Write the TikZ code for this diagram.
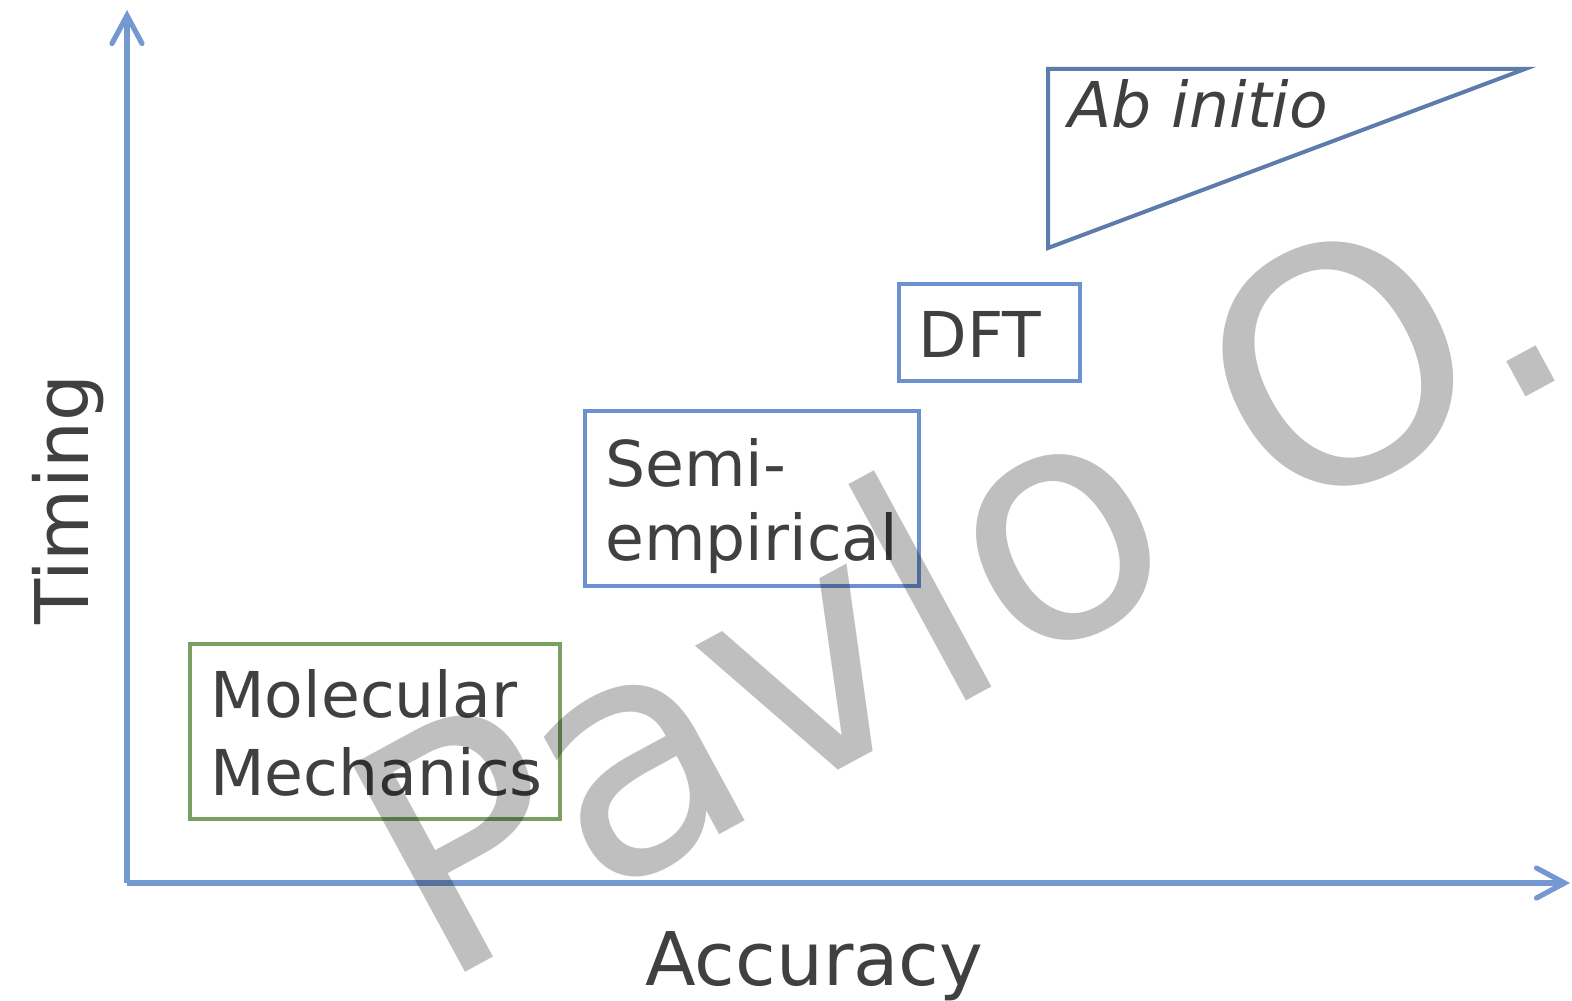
\documentclass[tikz,border=0pt]{standalone}
\usepackage{fontspec}
\setmainfont{DejaVu Sans}
\usetikzlibrary{arrows.meta}

\definecolor{axisblue}{HTML}{7398D2}
\definecolor{boxblue}{HTML}{6C90D0}
\definecolor{triblue}{HTML}{5E7CAB}
\definecolor{boxgreen}{HTML}{78A062}
\definecolor{textgray}{HTML}{404040}

\tikzset{
  axis/.style={line width=2.6pt, draw=axisblue,
    -{Straight Barb[length=14pt, width=15pt, line cap=round]}},
  method/.style={draw, line width=2pt, inner sep=0pt},
  lbl/.style={text=textgray, inner sep=0pt, anchor=base west,
    font=\fontsize{31.6}{39}\selectfont},
  axlbl/.style={text=textgray, inner sep=0pt, anchor=base west,
    font=\fontsize{37}{44}\selectfont},
  signature/.style={text=black, text opacity=0.25, inner sep=0pt,
    font=\fontsize{162}{162}\selectfont}
}

\begin{document}
\begin{tikzpicture}[x=0.5pt, y=-0.5pt]

  \useasboundingbox (0,0) rectangle (1572,1000);

  % Axes
  \coordinate (O)  at (127,883); %
  \coordinate (yt) at (127,10); %
  \coordinate (xt) at (1570,883); %
  \draw[axis] (O) -- (yt); %
  \draw[axis] (O) -- (xt); %

  % Axis labels
  \node[axlbl, rotate=90] (timing) at (88,625) {Timing}; %
  \node[axlbl]            (acc)    at (645,985) {Accuracy}; %

  % Molecular mechanics
  \node[method, draw=boxgreen, anchor=north west,
        minimum width=185pt, minimum height=87.5pt] (mm) at (188,642) {}; %
  \node[lbl] (mm-1) at (210,717) {Molecular}; %
  \node[lbl] (mm-2) at (210,795) {Mechanics}; %

  % Semi-empirical
  \node[method, draw=boxblue, anchor=north west,
        minimum width=167pt, minimum height=87.5pt] (se) at (583,409) {}; %
  \node[lbl] (se-1) at (605,486) {Semi-}; %
  \node[lbl] (se-2) at (605,560) {empirical}; %

  % DFT
  \node[method, draw=boxblue, anchor=north west,
        minimum width=90.5pt, minimum height=48.5pt] (dft) at (897,282) {}; %
  \node[lbl] (dft-1) at (918,357) {DFT}; %

  % Ab initio
  \coordinate (ai-a) at (1048,69); %
  \coordinate (ai-b) at (1525,69); %
  \coordinate (ai-c) at (1048,248); %
  \draw[line width=2pt, draw=triblue] (ai-a) -- (ai-b) -- (ai-c) -- cycle; %
  \node[lbl, font=\fontsize{31.6}{39}\selectfont\itshape] (ai) at (1068,128) {Ab initio}; %

  % Signature
  \node[signature, rotate=28.5, anchor=base west] (sig) at (437,988) {Pavlo O.}; %

\end{tikzpicture}
\end{document}
